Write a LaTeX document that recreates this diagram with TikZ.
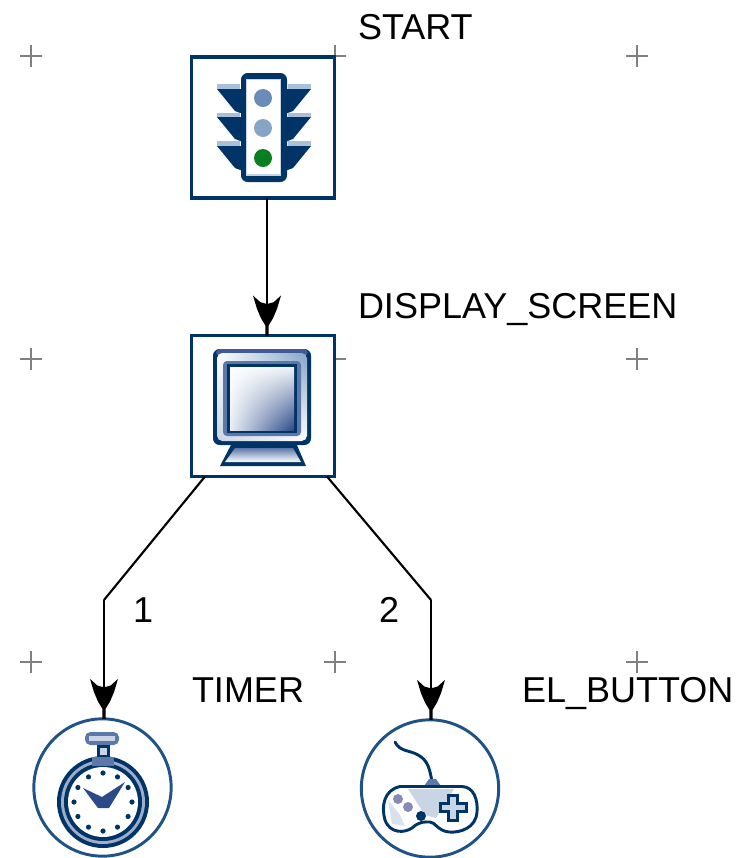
\documentclass[tikz,border=0pt]{standalone}
\usepackage{fontspec}
\setmainfont{Liberation Sans}
\usetikzlibrary{arrows.meta,shadings}
\definecolor{navy}{HTML}{003366}
\definecolor{ringblue}{HTML}{1F5285}
\definecolor{gridgrey}{HTML}{808080}
\definecolor{lampa}{HTML}{6C8CB8}
\definecolor{lampb}{HTML}{86A5C6}
\definecolor{lampc}{HTML}{0A7F22}
\definecolor{visor}{HTML}{A9C0DA}
\definecolor{steel}{HTML}{3F5B95}
\definecolor{midblue}{HTML}{5B78A8}
\definecolor{paleblue}{HTML}{C9D4E4}
\definecolor{handblue}{HTML}{2B4A8A}
\definecolor{btn}{HTML}{8A8AB8}
\pgfdeclarearrow{
  name=Barb,
  setup code={
    \pgfarrowssettipend{0pt}
    \pgfarrowssetlineend{-12pt}
    \pgfarrowssetvisualbackend{-20pt}
    \pgfarrowssetbackend{-20pt}
    \pgfarrowshullpoint{0pt}{0pt}
    \pgfarrowsupperhullpoint{-30pt}{10.5pt}
  },
  drawing code={
    \pgfsetlinewidth{0pt}
    \pgfpathmoveto{\pgfpoint{0pt}{1.2pt}}
    \pgfpathlineto{\pgfpoint{-7.5pt}{1.2pt}}
    \pgfpathlineto{\pgfpoint{-13pt}{4.5pt}}
    \pgfpathlineto{\pgfpoint{-20pt}{7.5pt}}
    \pgfpathlineto{\pgfpoint{-30pt}{10.5pt}}
    \pgfpathlineto{\pgfpoint{-25pt}{5pt}}
    \pgfpathlineto{\pgfpoint{-24pt}{1.5pt}}
    \pgfpathlineto{\pgfpoint{-24pt}{-1.5pt}}
    \pgfpathlineto{\pgfpoint{-25pt}{-5pt}}
    \pgfpathlineto{\pgfpoint{-30pt}{-10.5pt}}
    \pgfpathlineto{\pgfpoint{-20pt}{-7.5pt}}
    \pgfpathlineto{\pgfpoint{-13pt}{-4.5pt}}
    \pgfpathlineto{\pgfpoint{-7.5pt}{-1.2pt}}
    \pgfpathlineto{\pgfpoint{0pt}{-1.2pt}}
    \pgfpathclose
    \pgfusepathqfill
  }
}
\tikzset{
  gridmark/.style={draw=gridgrey,line width=2.2pt},
  iconbox/.style={draw=navy,fill=white,line width=2.3pt,minimum width=107.25pt,minimum height=105.75pt,inner sep=0pt,outer sep=0pt},
  iconring/.style={circle,draw=ringblue,fill=white,line width=2.2pt,minimum size=103pt,inner sep=0pt,outer sep=0pt},
  conn/.style={draw=black,line width=2.2pt},
  link/.style={draw=black,line width=1.6pt},
  lab/.style={font=\fontsize{27pt}{27pt}\selectfont,anchor=base west,inner sep=0pt,outer sep=0pt,text=black},
}
\begin{document}
\begin{tikzpicture}[x=0.75pt,y=-0.75pt]
\useasboundingbox (0,0) rectangle (739,858);
% grid marks
\foreach \gx in {31,335,637}{\foreach \gy in {56,359,662}{
  \draw[gridmark] (\gx-11,\gy) -- (\gx+11,\gy) (\gx,\gy-11) -- (\gx,\gy+11);
}}
% nodes
\node[iconbox] (start) at (263,127.5) {};
\node[iconbox] (display) at (263,406) {};
\node[iconring] (timer) at (102.5,787.5) {};
\node[iconring] (button) at (430,788.5) {};
\coordinate (bendl) at (104,600);
\coordinate (bendr) at (431,600);
% connectors
\draw[conn,-{Barb}] ([xshift=3pt]start.south) -- ([xshift=3pt]display.north);
\draw[link] ([xshift=-43.5pt]display.south) -- (bendl);
\draw[link] ([xshift=48pt]display.south) -- (bendr);
\draw[conn,-{Barb}] (bendl) -- (bendl |- timer.north);
\draw[conn,-{Barb}] (bendr) -- (bendr |- button.north);
% labels
\node[lab] (lstart) at (358,39.5) {START};
\node[lab] (ldisplay) at (358,318) {DISPLAY\_SCREEN};
\node[lab] (ltimer) at (192,702) {TIMER};
\node[lab] (lbutton) at (522,702) {EL\_BUTTON};
\node[lab] (lone) at (133,622) {1};
\node[lab] (ltwo) at (379,622) {2};
% traffic light
\fill[visor] (217,84) -- (240,84) -- (240,89) -- (217,89) -- cycle;
\fill[visor] (217,112.5) -- (240,112.5) -- (240,117) -- (217,117) -- cycle;
\fill[visor] (217,141) -- (240,141) -- (240,146) -- (217,146) -- cycle;
\fill[visor] (288,84) -- (311,84) -- (311,89) -- (288,89) -- cycle;
\fill[visor] (288,112.5) -- (311,112.5) -- (311,117) -- (288,117) -- cycle;
\fill[visor] (288,141) -- (311,141) -- (311,146) -- (288,146) -- cycle;
\foreach \vy in {89,117,146}{
  \fill[navy] (217,\vy) -- (243,\vy) -- (243,\vy+25) -- (235,\vy+22) -- cycle;
  \fill[navy] (311,\vy) -- (285,\vy) -- (285,\vy+25) -- (293,\vy+22) -- cycle;
}
\fill[navy,rounded corners=5pt] (241,73) rectangle (287,182);
\fill[white,draw=paleblue,line width=1pt] (246.5,79.5) rectangle (280.5,175);
\fill[lampa] (263,98) circle[radius=9];
\fill[lampb] (263,128) circle[radius=9];
\fill[lampc] (263,158) circle[radius=9];
% monitor
\fill[navy] (232,443) -- (296,443) -- (306,466) -- (220,466) -- cycle;
\shade[top color=midblue,bottom color=white] (235,448) -- (293,448) -- (301,462) -- (225,462) -- cycle;
\fill[navy,rounded corners=5pt] (213,349) rectangle (311,445);
\fill[steel,rounded corners=3pt] (216,349) rectangle (308,356);
\shade[rounded corners=4pt,upper left=white,upper right=lampb,lower left=paleblue,lower right=white] (217,353) rectangle (307,441);
\fill[midblue,rounded corners=3pt] (223,361) rectangle (301,436);
\fill[navy] (227,364) rectangle (297,433);
\shade[upper left=white,upper right=paleblue!30!white,lower left=paleblue!40!white,lower right=handblue] (230,367) rectangle (294,430);
% stopwatch
\fill[midblue,rounded corners=4pt] (85,732) rectangle (119,745);
\fill[paleblue] (89,736) rectangle (115,741);
\fill[navy] (97,745) rectangle (110,758);
\fill[paleblue] (100,748) rectangle (107,755);
\fill[navy] (103,802) circle[radius=46];
\fill[midblue!60!white] (103,802) circle[radius=42];
\fill[navy] (103,802) circle[radius=39];
\fill[white] (103,802) circle[radius=35];
\fill[midblue] (92,757) rectangle (114,766);
\foreach \ang in {0,30,...,330}{
  \fill[navy] (103,802) ++(\ang:29) circle[radius=2.6];
}
\fill[handblue] (83,788) -- (102,797) -- (125,782) -- (109,808) -- (98,808) -- cycle;
% gamepad
\draw[navy,line width=2.2pt,line cap=round] (395,742) .. controls (400,752) and (410,750) .. (418,755) .. controls (428,760) and (430,770) .. (432,782);
\fill[midblue] (424,786) -- (429,779) -- (436,779) -- (441,786) -- cycle;
\draw[navy,fill=white,line width=2.2pt] (400,786.5) -- (462,786.5) .. controls (474,787) and (478,800) .. (477,812) .. controls (476,828) and (460,833) .. (449,832) .. controls (438,831) and (435,822) .. (430,822) .. controls (424,822) and (420,821) .. (412,828) .. controls (405,833) and (390,834) .. (385,820) .. controls (381,806) and (384,790) .. (400,786.5) -- cycle;
\fill[paleblue] (408,789) -- (454,789) -- (436,818) -- (425,815) -- cycle;
\fill[paleblue!70!white] (388,800) -- (400,815) -- (405,826) -- (392,824) -- cycle;
\fill[navy] (447,794) rectangle (459,822);
\fill[navy] (439,802) rectangle (468,813);
\fill[paleblue] (450,797) rectangle (456,819);
\fill[paleblue] (442,805) rectangle (465,810);
\fill[navy] (421,816) circle[radius=5];
\fill[btn] (408,807) circle[radius=5];
\fill[btn] (398,799) circle[radius=5];
\end{tikzpicture}
\end{document}
